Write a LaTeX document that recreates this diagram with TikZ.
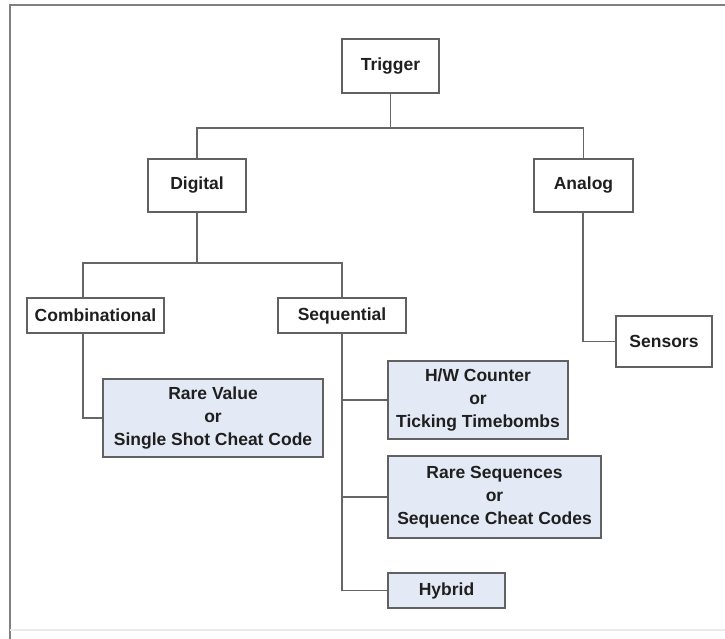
\documentclass[tikz,border=0pt]{standalone}
\usepackage{fontspec}
\setmainfont{Liberation Sans}
\begin{document}
\begin{tikzpicture}[x=1pt,y=-1pt,
  line width=1.4pt,
  wire/.style={draw=black!60, line width=1.5pt},
  box/.style={draw=black!62, line width=1.5pt, fill=white, inner sep=0pt, align=center,
    text=black!88, font=\fontsize{17.5}{23}\selectfont\bfseries},
  leaf/.style={box, fill=blue!5!black!2!white, fill=leafblue},
]
\definecolor{leafblue}{RGB}{228,234,245}
\useasboundingbox (0,0) rectangle (725,639);
\fill[white] (0,0) rectangle (725,639);

% outer frame
\draw[draw=black!50, line width=2pt] (725,5) -- (10,5) -- (10,639);
\draw[draw=black!8, line width=1.2pt] (10,630) -- (725,630);

% tree nodes
\node[box, minimum width=97, minimum height=54] (trigger) at (390.5,66) {Trigger};
\node[box, minimum width=98, minimum height=53] (digital) at (197,185.5) {Digital};
\node[box, minimum width=99, minimum height=53] (analog) at (583.5,185.5) {Analog};
\node[box, minimum width=137, minimum height=35] (comb) at (95.5,315.5) {Combinational};
\node[box, minimum width=128, minimum height=35] (seq) at (342,315.5) {Sequential};
\node[box, minimum width=96, minimum height=51] (sensors) at (664,341.5) {Sensors};
\node[leaf, minimum width=220, minimum height=78] (rare) at (213,418)
  {Rare Value\\or\\Single Shot Cheat Code};
\node[leaf, minimum width=180, minimum height=78] (hw) at (478,400)
  {H/W Counter\\or\\Ticking Timebombs};
\node[leaf, minimum width=213, minimum height=82] (rseq) at (494.5,497)
  {Rare Sequences\\or\\Sequence Cheat Codes};
\node[leaf, minimum width=117, minimum height=35] (hybrid) at (446.5,590.5) {Hybrid};

% junction points
\coordinate (bus1) at (390.5,128);
\coordinate (bus2) at (197,263);
\coordinate (ctop) at (83,298);
\coordinate (cbot) at (83,333);
\coordinate (abot) at (583,212);
\coordinate (sbot) at (342,333);

% connectors
\draw[wire] (trigger.south) -- (bus1);
\draw[wire] (digital.north) |- (bus1) -| (analog.north);
\draw[wire] (digital.south) -- (bus2);
\draw[wire] (ctop) |- (bus2) -| (seq.north);
\draw[wire] (cbot) |- (rare.west);
\draw[wire] (abot) |- (sensors.west);
\draw[wire] (sbot) |- (hybrid.west);
\draw[wire] (sbot |- hw.west) -- (hw.west);
\draw[wire] (sbot |- rseq.west) -- (rseq.west);
\end{tikzpicture}
\end{document}
